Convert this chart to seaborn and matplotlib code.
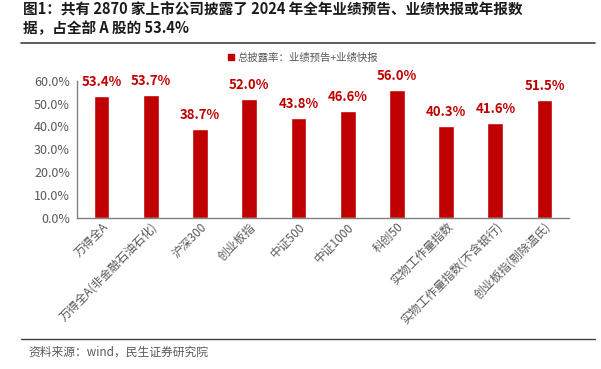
import matplotlib
matplotlib.use("Agg")
import matplotlib.pyplot as plt
import seaborn as sns
import pandas as pd
from matplotlib.lines import Line2D
from matplotlib.ticker import FuncFormatter

categories = ["万得全A", "万得全A(非金融石油石化)", "沪深300", "创业板指", "中证500",
              "中证1000", "科创50", "实物工作量指数", "实物工作量指数(不含银行)", "创业板指(剔除温氏)"]
values = [53.4, 53.7, 38.7, 52.0, 43.8, 46.6, 56.0, 40.3, 41.6, 51.5]
yticks = [0, 10, 20, 30, 40, 50, 60]
legend_label = "总披露率：业绩预告+业绩快报"
title_text = "图1：共有 2870 家上市公司披露了 2024 年全年业绩预告、业绩快报或年报数\n据，占全部 A 股的 53.4%"
source_text = "资料来源：wind，民生证券研究院"

sns.set_theme(style="white")
plt.rcParams['font.family'] = ['Noto Sans CJK SC', 'DejaVu Sans']

df = pd.DataFrame({"cat": categories, "val": values})
red = "#C00000"
gray = "#595959"

fig = plt.figure(figsize=(6.01, 3.69), dpi=100)
ax = fig.add_axes([0.128, 0.41, 0.819, 0.371])
sns.barplot(data=df, x="cat", y="val", color=red, width=0.32, ax=ax, saturation=1)

ax.set_ylim(0, 60)
ax.set_yticks(yticks)
ax.yaxis.set_major_formatter(FuncFormatter(lambda v, p: f"{v:.1f}%"))
ax.set_xlabel("")
ax.set_ylabel("")
ax.tick_params(axis="y", labelsize=9, colors=gray, length=0, pad=5)
ax.tick_params(axis="x", labelsize=8.5, colors=gray, length=0, pad=2)
plt.setp(ax.get_xticklabels(), rotation=45, ha="right", rotation_mode="anchor")
for s in ["top", "right"]:
    ax.spines[s].set_visible(False)
for s in ["left", "bottom"]:
    ax.spines[s].set_color("#808080")
    ax.spines[s].set_linewidth(1)
ax.set_xlim(-0.5, len(categories) - 0.5)

for i, v in enumerate(values):
    ax.annotate(f"{v:.1f}%", (i, v), xytext=(0, 5), textcoords="offset points",
                ha="center", va="bottom", color=red, fontsize=9.5, fontweight="bold")

handle = Line2D([], [], marker="s", linestyle="none", markersize=5, color=red)
leg = ax.legend([handle], [legend_label], loc="center left", bbox_to_anchor=(0.3, 1.167),
                frameon=False, fontsize=7.5, handletextpad=0.0, handlelength=1.2,
                borderaxespad=0, borderpad=0)
for t in leg.get_texts():
    t.set_color(gray)

fig.text(0.038, 0.995, title_text, ha="left", va="top", fontsize=10.5, fontweight="bold",
         color="#1a1a1a", linespacing=1.2)
fig.add_artist(Line2D([0.035, 0.99], [0.883, 0.883], color="#404040", linewidth=1.2,
                      transform=fig.transFigure))
fig.add_artist(Line2D([0.035, 0.99], [0.082, 0.082], color="#404040", linewidth=1.0,
                      transform=fig.transFigure))
fig.text(0.048, 0.045, source_text, ha="left", va="center", fontsize=8.5, color=gray)

fig.savefig("out.png", dpi=100)
